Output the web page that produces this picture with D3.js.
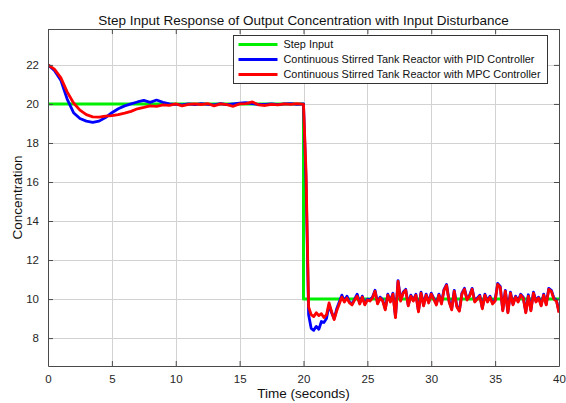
<!DOCTYPE html>
<html>
<head>
<meta charset="utf-8">
<script src="https://cdn.jsdelivr.net/npm/d3@7"></script>
<style>
  body { margin: 0; background: #fff; }
  svg { display: block; font-family: "Liberation Sans", Arial, sans-serif; }
</style>
</head>
<body>
<svg id="chart"></svg>
<script>
// sample times (s) before and after the set-point change
const timeRise = [0, 0.5, 1, 1.5, 2, 2.5, 3, 3.5, 4, 4.5, 5, 5.5, 6, 6.5, 7, 7.5, 8, 8.5, 9, 9.5,
  10, 10.5, 11, 11.5, 12, 12.5, 13, 13.5, 14, 14.5, 15, 15.5, 16, 16.5, 17, 17.5, 18, 18.5, 19, 19.5, 20];
const timeFall = [20.2, 20.4, 20.6, 20.8, 21, 21.2, 21.4, 21.6, 21.8, 22,
  22.2, 22.4, 22.6, 22.8, 23, 23.2, 23.4, 23.6, 23.8, 24,
  24.2, 24.4, 24.6, 24.8, 25, 25.2, 25.4, 25.6, 25.8, 26,
  26.2, 26.4, 26.6, 26.8, 27, 27.2, 27.4, 27.6, 27.8, 28,
  28.2, 28.4, 28.6, 28.8, 29, 29.2, 29.4, 29.6, 29.8, 30,
  30.2, 30.4, 30.6, 30.8, 31, 31.2, 31.4, 31.6, 31.8, 32,
  32.2, 32.4, 32.6, 32.8, 33, 33.2, 33.4, 33.6, 33.8, 34,
  34.2, 34.4, 34.6, 34.8, 35, 35.2, 35.4, 35.6, 35.8, 36,
  36.2, 36.4, 36.6, 36.8, 37, 37.2, 37.4, 37.6, 37.8, 38,
  38.2, 38.4, 38.6, 38.8, 39, 39.2, 39.4, 39.6, 39.8, 40];

// PID controller output concentration
const pidRise = [22.00, 21.72, 21.22, 20.25, 19.55, 19.25, 19.12, 19.06, 19.12, 19.30,
  19.55, 19.75, 19.90, 20.00, 20.10, 20.18, 20.08, 20.20, 20.08, 20.00,
  19.98, 19.95, 20.00, 19.97, 20.02, 19.98, 19.95, 20.02, 19.96, 20.00,
  20.04, 20.06, 20.02, 19.97, 19.98, 20.00, 19.96, 20.00, 20.02, 19.98, 20.00];
const pidFall = [16.0, 9.2, 8.5, 8.4, 8.6, 8.45, 8.85, 8.8, 9.0, 9.7,
  9.3, 9.0, 9.5, 9.85, 10.2, 9.9, 10.15, 9.85, 9.75, 10.0,
  10.25, 9.8, 10.15, 9.75, 10.0, 9.95, 10.1, 10.45, 9.8, 10.1,
  9.95, 9.5, 10.25, 9.9, 10.3, 9.1, 10.95, 9.95, 10.35, 10.5,
  9.7, 10.2, 9.95, 10.25, 9.4, 10.35, 9.7, 10.25, 9.85, 10.3,
  10.03, 9.75, 10.25, 9.8, 10.5, 10.75, 9.9, 9.5, 10.45, 9.65,
  9.43, 10.3, 10.55, 10.0, 10.2, 10.55, 9.9, 10.05, 10.2, 9.55,
  10.25, 9.9, 10.15, 9.8, 9.95, 10.8, 10.65, 9.45, 10.45, 9.35,
  10.35, 9.75, 10.15, 9.9, 10.25, 10.1, 9.35, 10.22, 9.45, 10.35,
  9.9, 10.1, 9.7, 10.25, 9.75, 10.55, 10.45, 10.05, 9.95, 9.35];

// MPC controller output concentration
const mpcRise = [22.00, 21.78, 21.35, 20.62, 20.05, 19.68, 19.45, 19.34, 19.32, 19.38,
  19.40, 19.45, 19.53, 19.62, 19.75, 19.82, 19.90, 19.88, 19.95, 19.93,
  20.00, 19.90, 19.98, 20.00, 19.97, 20.02, 19.90, 20.00, 19.96, 19.88,
  20.00, 20.02, 20.10, 19.95, 19.92, 19.98, 19.95, 20.00, 19.98, 20.02, 19.98];
const mpcFall = [16.5, 9.6, 9.2, 9.1, 9.3, 9.15, 9.25, 9.05, 9.2, 9.8,
  9.35, 8.95, 9.4, 9.75, 10.1, 9.85, 10.05, 9.8, 9.7, 9.95,
  10.15, 9.75, 10.1, 9.7, 9.95, 9.9, 10.05, 10.4, 9.75, 10.05,
  9.9, 9.45, 10.2, 9.85, 10.25, 9.05, 10.9, 9.9, 10.3, 10.45,
  9.65, 10.15, 9.9, 10.2, 9.35, 10.3, 9.65, 10.2, 9.8, 10.25,
  9.98, 9.7, 10.2, 9.75, 10.45, 10.7, 9.85, 9.45, 10.4, 9.6,
  9.38, 10.25, 10.5, 9.95, 10.15, 10.5, 9.85, 10.0, 10.15, 9.5,
  10.2, 9.85, 10.1, 9.75, 9.9, 10.75, 10.6, 9.4, 10.4, 9.3,
  10.3, 9.7, 10.1, 9.85, 10.2, 10.05, 9.3, 10.15, 9.4, 10.3,
  9.85, 10.05, 9.65, 10.2, 9.7, 10.5, 10.4, 10.0, 9.9, 9.3];

// step input (set point)
const stepTime = [0, 20, 20, 40];
const stepValue = [20, 20, 10, 10];

const xTicks = [0, 5, 10, 15, 20, 25, 30, 35, 40];
const yTicks = [8, 10, 12, 14, 16, 18, 20, 22];
const xDomain = [0, 40];
const yDomain = [6.57, 23.84];

const legendLabels = [
  "Step Input",
  "Continuous Stirred Tank Reactor with PID Controller",
  "Continuous Stirred Tank Reactor with MPC Controller"
];
const seriesColors = ["#00ee00", "#0000ff", "#ff0000"];

const width = 566, height = 403;
const margin = { top: 29, right: 7, bottom: 37, left: 48 };

const svg = d3.select("#chart")
  .attr("width", width)
  .attr("height", height)
  .attr("viewBox", [0, 0, width, height]);

const x = d3.scaleLinear(xDomain, [margin.left, width - margin.right]);
const y = d3.scaleLinear(yDomain, [height - margin.bottom, margin.top]);

// build series from the arrays
const stepData = stepTime.map((t, i) => [t, stepValue[i]]);
const pidData = timeRise.map((t, i) => [t, pidRise[i]])
  .concat(timeFall.map((t, i) => [t, pidFall[i]]));
const mpcData = timeRise.map((t, i) => [t, mpcRise[i]])
  .concat(timeFall.map((t, i) => [t, mpcFall[i]]));

svg.append("defs").append("clipPath").attr("id", "clip")
  .append("rect")
  .attr("x", margin.left).attr("y", margin.top)
  .attr("width", x.range()[1] - x.range()[0])
  .attr("height", y.range()[0] - y.range()[1]);

// grid
const grid = svg.append("g").attr("stroke", "#d2d2d2").attr("stroke-width", 1);
grid.selectAll(".gx").data(xTicks.slice(1, -1)).join("line")
  .attr("x1", d => Math.round(x(d)) + 0.5).attr("x2", d => Math.round(x(d)) + 0.5)
  .attr("y1", y.range()[1]).attr("y2", y.range()[0]);
grid.selectAll(".gy").data(yTicks).join("line")
  .attr("y1", d => Math.round(y(d)) + 0.5).attr("y2", d => Math.round(y(d)) + 0.5)
  .attr("x1", x.range()[0]).attr("x2", x.range()[1]);

// lines
const line = d3.line().x(d => x(d[0])).y(d => y(d[1]));
const lines = svg.append("g").attr("clip-path", "url(#clip)")
  .attr("fill", "none").attr("stroke-linejoin", "round");
[stepData, pidData, mpcData].forEach((data, i) => {
  lines.append("path")
    .datum(data)
    .attr("stroke", seriesColors[i])
    .attr("stroke-width", i == 0 ? 3 : 2.8)
    .attr("d", line);
});

// axes (box with inward ticks on all sides)
const axisColor = "#4a4a4a";
const xAxis = svg.append("g")
  .attr("transform", `translate(0,${y.range()[0]})`)
  .call(d3.axisBottom(x).tickValues(xTicks).tickSizeInner(-5).tickSizeOuter(0).tickPadding(9));
const xAxisTop = svg.append("g")
  .attr("transform", `translate(0,${y.range()[1]})`)
  .call(d3.axisTop(x).tickValues(xTicks).tickSizeInner(-5).tickSizeOuter(0).tickFormat(""));
const yAxis = svg.append("g")
  .attr("transform", `translate(${x.range()[0]},0)`)
  .call(d3.axisLeft(y).tickValues(yTicks).tickSizeInner(-5).tickSizeOuter(0).tickPadding(9));
const yAxisRight = svg.append("g")
  .attr("transform", `translate(${x.range()[1]},0)`)
  .call(d3.axisRight(y).tickValues(yTicks).tickSizeInner(-5).tickSizeOuter(0).tickFormat(""));

[xAxis, xAxisTop, yAxis, yAxisRight].forEach(a => {
  a.select(".domain").attr("stroke", axisColor);
  a.selectAll(".tick line").attr("stroke", axisColor);
  a.selectAll(".tick text").attr("fill", "#262626")
    .style("font-size", "11.5px").style("font-family", "Liberation Sans, Arial, sans-serif");
});

// title and labels
svg.append("text")
  .attr("x", (x.range()[0] + x.range()[1]) / 2).attr("y", 25)
  .attr("text-anchor", "middle").attr("fill", "#111")
  .style("font-size", "13.5px")
  .text("Step Input Response of Output Concentration with Input Disturbance");

svg.append("text")
  .attr("x", (x.range()[0] + x.range()[1]) / 2).attr("y", 398)
  .attr("text-anchor", "middle").attr("fill", "#111")
  .style("font-size", "13.5px")
  .text("Time (seconds)");

svg.append("text")
  .attr("transform", `translate(22,${(y.range()[0] + y.range()[1]) / 2}) rotate(-90)`)
  .attr("text-anchor", "middle").attr("fill", "#111")
  .style("font-size", "13.5px")
  .text("Concentration");

// legend
const legend = svg.append("g").attr("transform", "translate(233.5,35.5)");
legend.append("rect")
  .attr("width", 314).attr("height", 48)
  .attr("fill", "#fff").attr("stroke", "#333").attr("stroke-width", 1);
const items = legend.selectAll(".item").data(legendLabels).join("g")
  .attr("transform", (d, i) => `translate(0,${9 + i * 15})`);
items.append("line")
  .attr("x1", 5).attr("x2", 44)
  .attr("stroke", (d, i) => seriesColors[i])
  .attr("stroke-width", 3);
items.append("text")
  .attr("x", 50).attr("dy", "0.35em")
  .attr("fill", "#111")
  .style("font-size", "10.9px")
  .text(d => d);
</script>
</body>
</html>
